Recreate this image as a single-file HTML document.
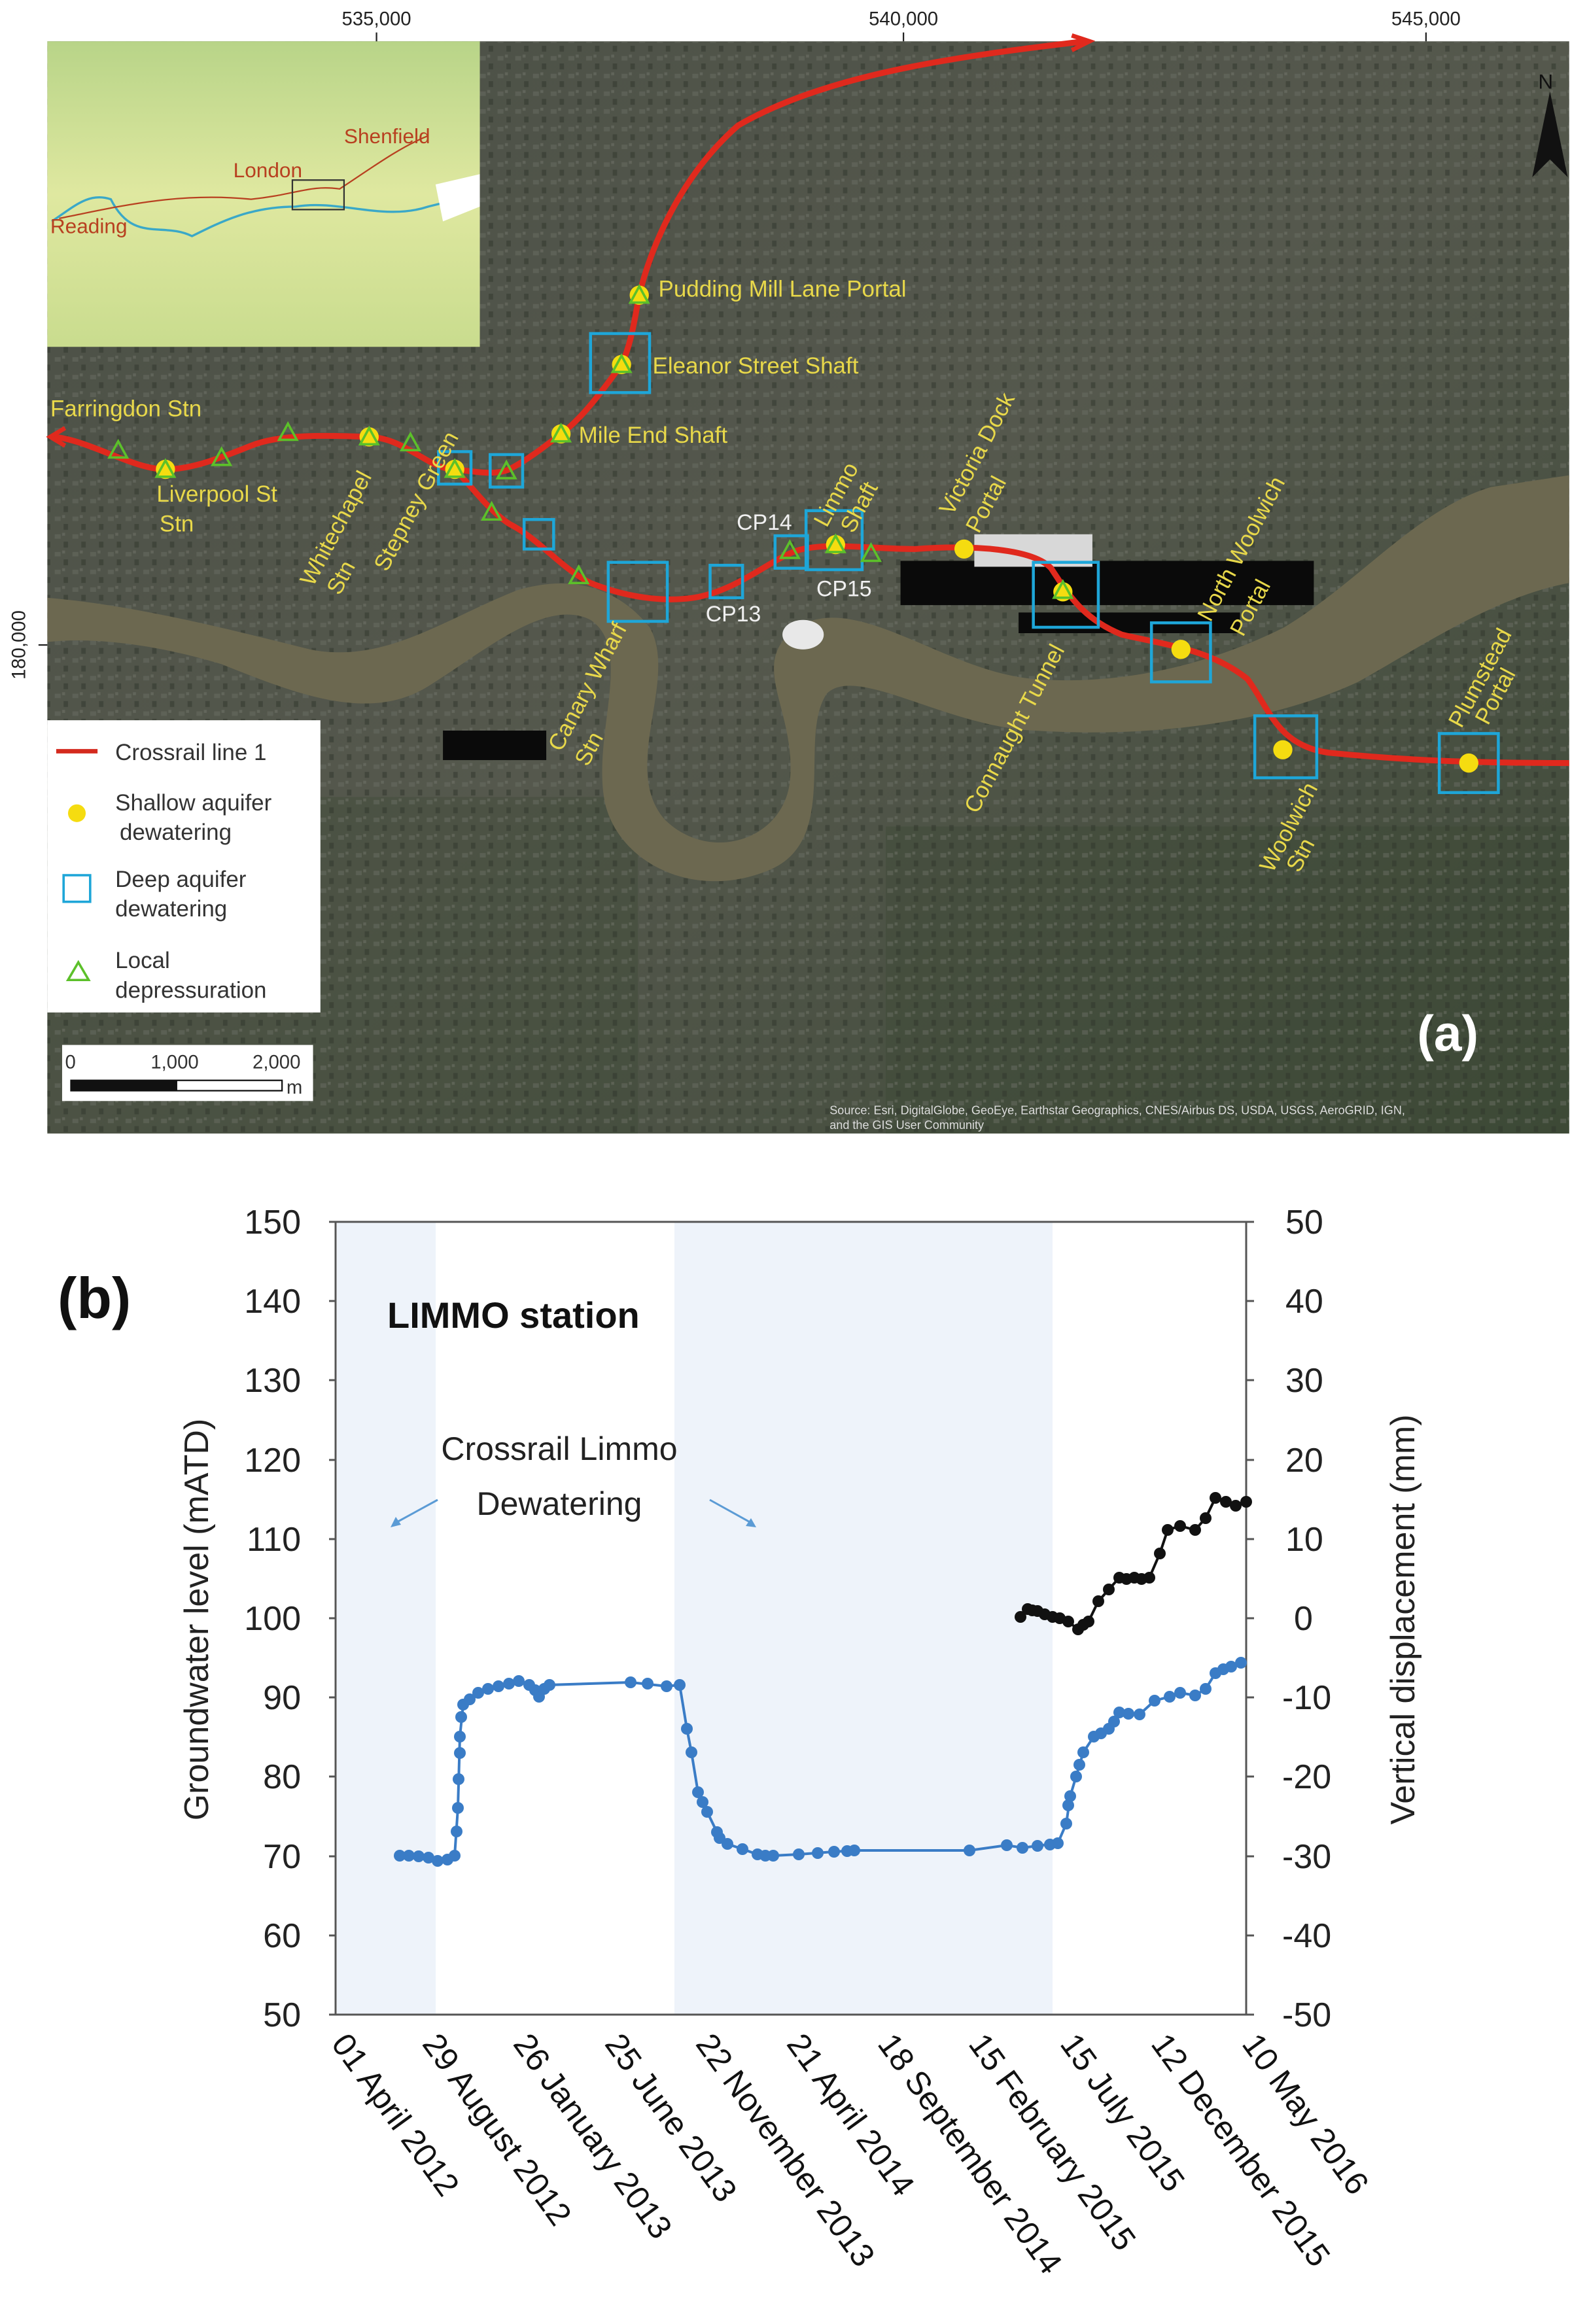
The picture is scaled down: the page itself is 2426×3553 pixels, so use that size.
<!DOCTYPE html>
<html><head><meta charset="utf-8"><style>
html,body{margin:0;padding:0;background:#fff;}
body{width:2426px;height:3553px;position:relative;overflow:hidden;font-family:"Liberation Sans",sans-serif;}
svg{position:absolute;left:0;top:0;}
</style></head><body>
<svg width="2426" height="1760" viewBox="0 0 1075 780" xmlns="http://www.w3.org/2000/svg" font-family="Liberation Sans, sans-serif">
<defs>
<linearGradient id="bg" x1="0" y1="0" x2="1" y2="1"><stop offset="0" stop-color="#4b5046"/><stop offset="0.5" stop-color="#55584d"/><stop offset="1" stop-color="#3e4a38"/></linearGradient>
<linearGradient id="ins" x1="0" y1="0" x2="0" y2="1"><stop offset="0" stop-color="#b8d488"/><stop offset="0.5" stop-color="#dfe8a0"/><stop offset="1" stop-color="#c9dc8e"/></linearGradient>
<pattern id="tex" width="12" height="12" patternUnits="userSpaceOnUse">
<rect width="12" height="12" fill="none"/>
<rect x="1" y="2" width="4" height="3" fill="#6a6d64" opacity="0.5"/>
<rect x="7" y="7" width="3" height="4" fill="#2f362c" opacity="0.5"/>
<rect x="6" y="1" width="2" height="2" fill="#7a7c72" opacity="0.4"/>
</pattern>
</defs>
<rect x="32" y="28" width="1031" height="740" fill="url(#bg)"/>
<rect x="32" y="540" width="400" height="228" fill="#3f4a37" opacity="0.4"/>
<rect x="600" y="560" width="463" height="208" fill="#3c4934" opacity="0.4"/>
<rect x="32" y="28" width="1031" height="740" fill="url(#tex)"/>
<!-- river -->
<path d="M32,405 C90,410 150,425 210,440 C260,450 300,420 350,400 C390,388 420,400 440,425 C460,460 420,520 450,555 C480,585 530,570 535,530 C540,480 505,450 540,425 C580,400 640,455 700,460 C760,465 820,450 870,425 C920,395 960,345 1010,330 L1063,322 L1063,395 C1010,405 960,440 920,462 C860,490 780,500 700,495 C640,492 580,450 560,470 C540,500 570,570 520,590 C470,610 420,585 410,545 C400,500 430,440 400,420 C370,405 330,440 290,465 C250,490 200,470 150,450 C100,435 60,432 32,435 Z" fill="#6c6850"/>
<!-- docks -->
<rect x="610" y="380" width="280" height="30" fill="#0a0a0a"/>
<rect x="690" y="415" width="150" height="14" fill="#0a0a0a"/>
<rect x="300" y="495" width="70" height="20" fill="#0a0a0a"/>
<rect x="660" y="362" width="80" height="22" fill="#d8d8d8"/>
<ellipse cx="544" cy="430" rx="14" ry="10" fill="#e8e8e8"/>
<!-- inset -->
<rect x="32" y="28" width="293" height="207" fill="url(#ins)"/>
<path d="M35,150 C50,140 60,130 75,135 C90,165 110,150 130,160 C150,150 170,140 200,140 C230,135 260,150 290,140 L310,135" stroke="#3aa8c8" stroke-width="1.5" fill="none"/>
<path d="M295,125 L325,118 L325,140 L300,150 Z" fill="#fff"/>
<path d="M40,148 C80,140 120,130 170,135 C200,132 210,125 230,128 C250,115 270,100 290,92" stroke="#b84020" stroke-width="1" fill="none"/>
<rect x="198" y="122" width="35" height="20" fill="none" stroke="#333" stroke-width="1"/>
<text x="34" y="158" font-size="14" fill="#b84020">Reading</text>
<text x="158" y="120" font-size="14" fill="#b84020">London</text>
<text x="233" y="97" font-size="14" fill="#b84020">Shenfield</text>
<!-- red line -->
<g fill="none" stroke="#e0291d" stroke-width="4" stroke-linejoin="round">
<path d="M36,296 C60,298 90,318 112,318 C130,318 150,310 170,302 C190,294 220,295 250,296 C275,297 290,318 308,318 C325,320 335,322 345,318 C360,310 372,300 380,294 C395,283 410,262 421,247 C428,232 430,215 433,200 C440,170 460,120 500,85 C560,50 650,38 735,28"/>
<path d="M308,318 C320,330 330,345 345,355 C365,365 380,385 400,395 C425,405 450,408 470,405 C500,400 520,380 540,373 C560,367 590,372 620,372 C660,369 700,372 712,385 C725,405 735,420 760,430 C790,437 820,440 845,460 C860,480 865,505 900,510 C950,515 995,517 1063,517"/>
</g>
<path d="M726,24 L738,28 L726,34" stroke="#e0291d" stroke-width="3" fill="none"/>
<path d="M44,290 L34,296 L44,302" stroke="#e0291d" stroke-width="3" fill="none"/>
<!-- squares -->
<g fill="none" stroke="#1ea6d8" stroke-width="2">
<rect x="400" y="226" width="40" height="40"/><rect x="297" y="306" width="22" height="22"/><rect x="332" y="308" width="22" height="22"/><rect x="355" y="352" width="20" height="20"/><rect x="412" y="381" width="40" height="40"/><rect x="481" y="383" width="22" height="22"/><rect x="525" y="363" width="22" height="22"/><rect x="546" y="346" width="38" height="40"/><rect x="700" y="381" width="44" height="44"/><rect x="780" y="422" width="40" height="40"/><rect x="850" y="485" width="42" height="42"/><rect x="975" y="497" width="40" height="40"/>
</g>
<!-- yellow dots -->
<g fill="#f5dc10">
<circle cx="112" cy="318" r="6.5"/><circle cx="250" cy="296" r="6.5"/><circle cx="308" cy="318" r="6.5"/><circle cx="380" cy="294" r="6.5"/><circle cx="421" cy="247" r="6.5"/><circle cx="433" cy="200" r="6.5"/><circle cx="566" cy="369" r="6.5"/><circle cx="653" cy="372" r="6.5"/><circle cx="720" cy="401" r="6.5"/><circle cx="800" cy="440" r="6.5"/><circle cx="869" cy="508" r="6.5"/><circle cx="995" cy="517" r="6.5"/>
</g>
<!-- triangles -->
<g fill="none" stroke="#5cc02a" stroke-width="1.6">
<path d="M80,299 l-6,11 h12z"/><path d="M150,304 l-6,11 h12z"/><path d="M195,287 l-6,11 h12z"/><path d="M278,294 l-6,11 h12z"/><path d="M343,313 l-6,11 h12z"/><path d="M333,341 l-6,11 h12z"/><path d="M392,384 l-6,11 h12z"/><path d="M535,367 l-6,11 h12z"/><path d="M590,369 l-6,11 h12z"/><path d="M720,394 l-6,11 h12z"/><path d="M433,194 l-6,11 h12z"/><path d="M421,241 l-6,11 h12z"/><path d="M380,288 l-6,11 h12z"/><path d="M308,312 l-6,11 h12z"/><path d="M250,290 l-6,11 h12z"/><path d="M112,312 l-6,11 h12z"/><path d="M566,363 l-6,11 h12z"/>
</g>
<!-- labels -->
<g fill="#e8d84a" font-size="15.5">
<text x="446" y="201">Pudding Mill Lane Portal</text>
<text x="442" y="253">Eleanor Street Shaft</text>
<text x="392" y="300">Mile End Shaft</text>
<text x="34" y="282">Farringdon Stn</text>
<text x="106" y="340">Liverpool St</text>
<text x="108" y="360">Stn</text>
<text transform="translate(212,398) rotate(-62)">Whitechapel</text>
<text transform="translate(230,404) rotate(-62)">Stn</text>
<text transform="translate(262,388) rotate(-62)">Stepney Green</text>
<text transform="translate(380,510) rotate(-62)">Canary Wharf</text>
<text transform="translate(398,520) rotate(-62)">Stn</text>
<text transform="translate(560,358) rotate(-62)">Limmo</text>
<text transform="translate(578,362) rotate(-62)">Shaft</text>
<text transform="translate(645,350) rotate(-62)">Victoria Dock</text>
<text transform="translate(663,362) rotate(-62)">Portal</text>
<text transform="translate(662,552) rotate(-62)">Connaught Tunnel</text>
<text transform="translate(820,422) rotate(-62)">North Woolwich</text>
<text transform="translate(842,432) rotate(-62)">Portal</text>
<text transform="translate(862,592) rotate(-62)">Woolwich</text>
<text transform="translate(880,592) rotate(-62)">Stn</text>
<text transform="translate(990,494) rotate(-62)">Plumstead</text>
<text transform="translate(1008,492) rotate(-62)">Portal</text>
</g>
<g fill="#f0f0f0" font-size="15">
<text x="499" y="359">CP14</text><text x="478" y="421">CP13</text><text x="553" y="404">CP15</text>
</g>
<!-- legend -->
<rect x="32" y="488" width="185" height="198" fill="#fff"/>
<line x1="38" y1="509" x2="66" y2="509" stroke="#d42a1e" stroke-width="3"/>
<circle cx="52" cy="551" r="6" fill="#f5dc10"/>
<rect x="43" y="593" width="18" height="18" fill="none" stroke="#1ea6d8" stroke-width="1.6"/>
<path d="M53,652 l-7,12 h14z" fill="none" stroke="#5cc02a" stroke-width="1.6"/>
<g font-size="15.5" fill="#333">
<text x="78" y="515">Crossrail line 1</text>
<text x="78" y="549">Shallow aquifer</text><text x="81" y="569">dewatering</text>
<text x="78" y="601">Deep aquifer</text><text x="78" y="621">dewatering</text>
<text x="78" y="656">Local</text><text x="78" y="676">depressuration</text>
</g>
<!-- scale bar -->
<rect x="42" y="708" width="170" height="38" fill="#fff"/>
<text x="44" y="724" font-size="13" fill="#333">0</text>
<text x="102" y="724" font-size="13" fill="#333">1,000</text>
<text x="171" y="724" font-size="13" fill="#333">2,000</text>
<rect x="48" y="732" width="143" height="7" fill="#fff" stroke="#111" stroke-width="1"/>
<rect x="48" y="732" width="72" height="7" fill="#111"/>
<text x="194" y="741" font-size="13" fill="#333">m</text>
<text x="960" y="712" font-size="34" font-weight="bold" fill="#fff">(a)</text>
<text x="562" y="755" font-size="8" fill="#ddd">Source: Esri, DigitalGlobe, GeoEye, Earthstar Geographics, CNES/Airbus DS, USDA, USGS, AeroGRID, IGN,</text>
<text x="562" y="765" font-size="8" fill="#ddd">and the GIS User Community</text>
<!-- north arrow -->
<text x="1042" y="60" font-size="14" fill="#111">N</text>
<path d="M1050,62 L1038,120 L1050,108 L1062,120 Z" fill="#111"/>
<!-- axis labels -->
<g font-size="13" fill="#222" text-anchor="middle">
<text x="255" y="17">535,000</text><text x="612" y="17">540,000</text><text x="966" y="17">545,000</text>
<text transform="translate(17,437) rotate(-90)">180,000</text>
</g>
<line x1="255" y1="22" x2="255" y2="28" stroke="#222"/><line x1="612" y1="22" x2="612" y2="28" stroke="#222"/><line x1="966" y1="22" x2="966" y2="28" stroke="#222"/><line x1="26" y1="437" x2="32" y2="437" stroke="#222"/>
</svg>

<svg width="2426" height="3553" viewBox="0 0 2426 3553" xmlns="http://www.w3.org/2000/svg" font-family="Liberation Sans, sans-serif" style="pointer-events:none">
<rect x="515" y="1868" width="151" height="1212" fill="#eef3fa"/>
<rect x="1031" y="1868" width="578" height="1212" fill="#eef3fa"/>
<g stroke="#555" stroke-width="3" fill="none">
<rect x="513" y="1868" width="1392" height="1212"/>
</g>
<g stroke="#555" stroke-width="3">
<line x1="503" y1="1868" x2="513" y2="1868"/><line x1="503" y1="1989" x2="513" y2="1989"/><line x1="503" y1="2110" x2="513" y2="2110"/><line x1="503" y1="2232" x2="513" y2="2232"/><line x1="503" y1="2353" x2="513" y2="2353"/><line x1="503" y1="2474" x2="513" y2="2474"/><line x1="503" y1="2595" x2="513" y2="2595"/><line x1="503" y1="2716" x2="513" y2="2716"/><line x1="503" y1="2838" x2="513" y2="2838"/><line x1="503" y1="2959" x2="513" y2="2959"/><line x1="503" y1="3080" x2="513" y2="3080"/>
<line x1="1905" y1="1868" x2="1917" y2="1868"/><line x1="1905" y1="1989" x2="1917" y2="1989"/><line x1="1905" y1="2110" x2="1917" y2="2110"/><line x1="1905" y1="2232" x2="1917" y2="2232"/><line x1="1905" y1="2353" x2="1917" y2="2353"/><line x1="1905" y1="2474" x2="1917" y2="2474"/><line x1="1905" y1="2595" x2="1917" y2="2595"/><line x1="1905" y1="2716" x2="1917" y2="2716"/><line x1="1905" y1="2838" x2="1917" y2="2838"/><line x1="1905" y1="2959" x2="1917" y2="2959"/><line x1="1905" y1="3080" x2="1917" y2="3080"/>
</g>
<g font-size="52" fill="#222" text-anchor="end">
<text x="460" y="1886">150</text><text x="460" y="2007">140</text><text x="460" y="2128">130</text><text x="460" y="2250">120</text><text x="460" y="2371">110</text><text x="460" y="2492">100</text><text x="460" y="2613">90</text><text x="460" y="2734">80</text><text x="460" y="2856">70</text><text x="460" y="2977">60</text><text x="460" y="3098">50</text>
</g>
<g font-size="52" fill="#222">
<text x="1965" y="1886">50</text><text x="1965" y="2007">40</text><text x="1965" y="2128">30</text><text x="1965" y="2250">20</text><text x="1965" y="2371">10</text><text x="1978" y="2492">0</text><text x="1960" y="2613">-10</text><text x="1960" y="2734">-20</text><text x="1960" y="2856">-30</text><text x="1960" y="2977">-40</text><text x="1960" y="3098">-50</text>
</g>
<text transform="translate(318,2476) rotate(-90)" font-size="52" fill="#222" text-anchor="middle">Groundwater level  (mATD)</text>
<text transform="translate(2162,2476) rotate(-90)" font-size="52" fill="#222" text-anchor="middle">Vertical displacement (mm)</text>
<text x="88" y="2015" font-size="88" font-weight="bold" fill="#111">(b)</text>
<text x="592" y="2030" font-size="56" font-weight="bold" fill="#111">LIMMO station</text>
<text x="855" y="2232" font-size="50" fill="#222" text-anchor="middle">Crossrail Limmo</text>
<text x="855" y="2316" font-size="50" fill="#222" text-anchor="middle">Dewatering</text>
<g stroke="#5b9bd5" stroke-width="3"><line x1="669" y1="2293" x2="605" y2="2328"/><line x1="1085" y1="2293" x2="1148" y2="2328"/></g>
<path d="M597,2335 l8,-16 l8,12z" fill="#5b9bd5"/><path d="M1156,2335 l-16,-2 l8,-12z" fill="#5b9bd5"/>
<polyline fill="none" stroke="#3a7cc6" stroke-width="4" points="611,2837 630,2837 645,2839 669,2845 684,2843 695,2837 700,2764 703,2655 708,2606 731,2588 762,2578 793,2570 809,2576 824,2594 840,2576 964,2572 1019,2578 1039,2576 1050,2643 1057,2679 1067,2740 1081,2770 1096,2801 1112,2819 1135,2827 1158,2835 1182,2837 1221,2835 1275,2831 1306,2829 1482,2829 1539,2821 1563,2825 1586,2822 1617,2818 1630,2788 1636,2746 1645,2716 1656,2679 1672,2655 1695,2643 1711,2618 1742,2621 1765,2600 1788,2594 1804,2588 1827,2592 1843,2582 1858,2558 1882,2548 1897,2542"/>
<g fill="#3a7cc6">
<circle cx="611" cy="2837" r="9"/><circle cx="625" cy="2837" r="9"/><circle cx="640" cy="2838" r="9"/><circle cx="655" cy="2840" r="9"/><circle cx="669" cy="2845" r="9"/><circle cx="684" cy="2843" r="9"/><circle cx="695" cy="2837" r="9"/><circle cx="698" cy="2800" r="9"/><circle cx="700" cy="2764" r="9"/><circle cx="701" cy="2720" r="9"/><circle cx="703" cy="2680" r="9"/><circle cx="703" cy="2655" r="9"/><circle cx="705" cy="2625" r="9"/><circle cx="708" cy="2606" r="9"/><circle cx="718" cy="2598" r="9"/><circle cx="731" cy="2588" r="9"/><circle cx="746" cy="2582" r="9"/><circle cx="762" cy="2578" r="9"/><circle cx="778" cy="2574" r="9"/><circle cx="793" cy="2570" r="9"/><circle cx="809" cy="2576" r="9"/><circle cx="818" cy="2584" r="9"/><circle cx="824" cy="2594" r="9"/><circle cx="832" cy="2582" r="9"/><circle cx="840" cy="2576" r="9"/><circle cx="964" cy="2572" r="9"/><circle cx="990" cy="2574" r="9"/><circle cx="1019" cy="2578" r="9"/><circle cx="1039" cy="2576" r="9"/><circle cx="1050" cy="2643" r="9"/><circle cx="1057" cy="2679" r="9"/><circle cx="1067" cy="2740" r="9"/><circle cx="1074" cy="2755" r="9"/><circle cx="1081" cy="2770" r="9"/><circle cx="1096" cy="2801" r="9"/><circle cx="1100" cy="2810" r="9"/><circle cx="1112" cy="2819" r="9"/><circle cx="1135" cy="2827" r="9"/><circle cx="1158" cy="2835" r="9"/><circle cx="1170" cy="2837" r="9"/><circle cx="1182" cy="2837" r="9"/><circle cx="1221" cy="2835" r="9"/><circle cx="1250" cy="2833" r="9"/><circle cx="1275" cy="2831" r="9"/><circle cx="1295" cy="2830" r="9"/><circle cx="1306" cy="2829" r="9"/><circle cx="1482" cy="2829" r="9"/><circle cx="1539" cy="2821" r="9"/><circle cx="1563" cy="2825" r="9"/><circle cx="1586" cy="2822" r="9"/><circle cx="1605" cy="2820" r="9"/><circle cx="1617" cy="2818" r="9"/><circle cx="1630" cy="2788" r="9"/><circle cx="1633" cy="2760" r="9"/><circle cx="1636" cy="2746" r="9"/><circle cx="1645" cy="2716" r="9"/><circle cx="1650" cy="2698" r="9"/><circle cx="1656" cy="2679" r="9"/><circle cx="1672" cy="2655" r="9"/><circle cx="1683" cy="2650" r="9"/><circle cx="1695" cy="2643" r="9"/><circle cx="1703" cy="2632" r="9"/><circle cx="1711" cy="2618" r="9"/><circle cx="1725" cy="2620" r="9"/><circle cx="1742" cy="2621" r="9"/><circle cx="1765" cy="2600" r="9"/><circle cx="1788" cy="2594" r="9"/><circle cx="1804" cy="2588" r="9"/><circle cx="1827" cy="2592" r="9"/><circle cx="1843" cy="2582" r="9"/><circle cx="1858" cy="2558" r="9"/><circle cx="1870" cy="2552" r="9"/><circle cx="1882" cy="2548" r="9"/><circle cx="1897" cy="2542" r="9"/>
</g>
<polyline fill="none" stroke="#111" stroke-width="4" points="1560,2472 1571,2460 1586,2463 1609,2472 1633,2479 1648,2491 1664,2479 1679,2448 1695,2430 1711,2412 1734,2412 1757,2412 1773,2375 1785,2339 1804,2333 1827,2339 1843,2321 1858,2290 1874,2296 1889,2302 1905,2296"/>
<g fill="#111">
<circle cx="1560" cy="2472" r="9"/><circle cx="1571" cy="2460" r="9"/><circle cx="1578" cy="2462" r="9"/><circle cx="1586" cy="2463" r="9"/><circle cx="1597" cy="2468" r="9"/><circle cx="1609" cy="2472" r="9"/><circle cx="1620" cy="2474" r="9"/><circle cx="1633" cy="2479" r="9"/><circle cx="1648" cy="2491" r="9"/><circle cx="1656" cy="2484" r="9"/><circle cx="1664" cy="2479" r="9"/><circle cx="1679" cy="2448" r="9"/><circle cx="1695" cy="2430" r="9"/><circle cx="1711" cy="2412" r="9"/><circle cx="1722" cy="2414" r="9"/><circle cx="1734" cy="2412" r="9"/><circle cx="1745" cy="2414" r="9"/><circle cx="1757" cy="2412" r="9"/><circle cx="1773" cy="2375" r="9"/><circle cx="1785" cy="2339" r="9"/><circle cx="1804" cy="2333" r="9"/><circle cx="1827" cy="2339" r="9"/><circle cx="1843" cy="2321" r="9"/><circle cx="1858" cy="2290" r="9"/><circle cx="1874" cy="2296" r="9"/><circle cx="1889" cy="2302" r="9"/><circle cx="1905" cy="2296" r="9"/>
</g>
<g font-size="50" fill="#111">
<text transform="translate(505,3125) rotate(54)">01 April 2012</text>
<text transform="translate(644,3125) rotate(54)">29 August 2012</text>
<text transform="translate(783,3125) rotate(54)">26 January 2013</text>
<text transform="translate(923,3125) rotate(54)">25 June 2013</text>
<text transform="translate(1062,3125) rotate(54)">22 November 2013</text>
<text transform="translate(1201,3125) rotate(54)">21 April 2014</text>
<text transform="translate(1340,3125) rotate(54)">18 September 2014</text>
<text transform="translate(1479,3125) rotate(54)">15 February 2015</text>
<text transform="translate(1619,3125) rotate(54)">15 July 2015</text>
<text transform="translate(1758,3125) rotate(54)">12 December 2015</text>
<text transform="translate(1897,3125) rotate(54)">10 May 2016</text>
</g>
</svg>
</body></html>
